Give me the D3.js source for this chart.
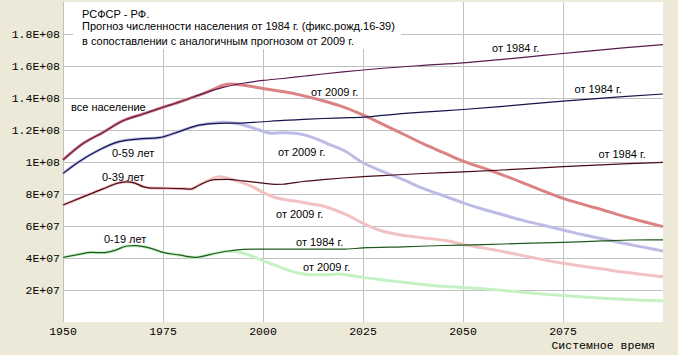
<!DOCTYPE html>
<html>
<head>
<meta charset="utf-8">
<script src="https://cdn.jsdelivr.net/npm/d3@7"></script>
<style>
  html, body { margin: 0; padding: 0; background: #ECE9D8; }
  svg { display: block; }
</style>
</head>
<body>
<svg id="chart" width="678" height="355"></svg>
<script>
// ---------------- DATA (millions of people) ----------------
const titleLines = [
  "РСФСР - РФ.",
  "Прогноз численности населения от 1984 г. (фикс.рожд.16-39)",
  "в сопоставлении с аналогичным прогнозом от 2009 г."
];
const xTickValues = [1950, 1975, 2000, 2025, 2050, 2075];
const xTickLabels = ["1950", "1975", "2000", "2025", "2050", "2075"];
const yTickValues = [20, 40, 60, 80, 100, 120, 140, 160, 180];
const yTickLabels = ["2E+07", "4E+07", "6E+07", "8E+07", "1E+08", "1.2E+08", "1.4E+08", "1.6E+08", "1.8E+08"];
const xAxisTitle = "Системное время";

// все население, прогноз 1984
const totalYears1984 = [1950,1955,1960,1965,1970,1975,1980,1985,1990,1995,2000,2005,2010,2015,2020,2025,2030,2040,2050,2060,2070,2080,2090,2100];
const total1984 = [101.3,111.5,118.5,125.8,130,134.2,138.3,142.7,146.6,149.2,151,152.2,153.6,155,156.3,157.5,158.6,160.4,162,164.2,166.6,169,171.3,173.3];
// все население, прогноз 2009
const totalYears2009 = [1950,1955,1960,1965,1970,1975,1980,1985,1988,1990,1992,1995,2000,2005,2010,2015,2020,2025,2030,2035,2040,2045,2050,2055,2060,2065,2070,2075,2080,2085,2090,2095,2100];
const total2009 = [101.3,111.5,118.5,125.8,130,134.2,138.3,142.7,145.8,148,148.7,148,146,144,141.5,138.3,134.5,129.4,123.5,117.5,111.5,106,100.5,96.3,91.8,87,82,77.3,73.5,70,66.2,62.8,59.6];

// 0-59 лет
const a59Years1984 = [1950,1954,1959,1964,1969,1974,1979,1984,1989,1994,1999,2005,2010,2015,2020,2025,2030,2040,2050,2060,2075,2090,2100];
const a59_1984 = [92.9,100.2,107.5,112.7,114.4,115.2,119,123,124.2,124.3,125,126,126.6,127.2,127.6,128,129.2,131.2,132.8,134.8,138,140.8,142.5];
const a59Years2009 = [1950,1954,1959,1964,1969,1974,1979,1984,1988,1990,1993,1996,1999,2002,2005,2008,2011,2014,2017,2020,2025,2030,2035,2040,2045,2050,2055,2060,2065,2070,2075,2080,2085,2090,2095,2100];
const a59_2009 = [92.9,100.2,107.5,112.7,114.4,115.2,119,123,124.6,124.8,124.2,122.5,120,118,118.3,118,116.5,113.8,110.5,107.5,99.5,94,89,83.5,79,74.5,70.5,67,63.5,60.5,57.5,54.5,51.9,49.2,46.8,44.4];

// 0-39 лет
const a39Years1984 = [1950,1955,1960,1964,1966,1968,1970,1972,1976,1980,1982,1984,1986,1988,1991,1995,2000,2003,2005,2010,2015,2020,2025,2030,2040,2050,2060,2075,2090,2100];
const a39_1984 = [73.1,78.2,83.2,87,87.6,86.8,84.6,83.7,83.6,83.3,83.1,85.5,87.8,89,89.2,88.2,86.8,86,86.1,87.8,89,90,90.8,91.5,92.8,93.8,95,97.1,98.8,99.8];
const a39Years2009 = [1950,1955,1960,1964,1966,1968,1970,1972,1976,1980,1982,1984,1986,1989,1991,1994,1997,2000,2003,2006,2009,2012,2015,2018,2021,2025,2029,2033,2038,2042,2046,2050,2055,2060,2065,2070,2075,2080,2085,2090,2095,2100];
const a39_2009 = [73.1,78.2,83.2,87,87.6,86.8,84.6,83.7,83.6,83.3,83.1,85.5,88,90.8,90,87.7,85,81,77.8,76.3,75.2,73.8,72.5,70,66.9,61.7,57.5,55,53.2,52,50.8,48.5,46.3,44,41.5,39,36.7,34.8,33.1,31.2,29.7,28.3];

// 0-19 лет
const a19Years1984 = [1950,1954,1957,1960,1963,1966,1968,1972,1975,1979,1983,1987,1991,1995,2000,2010,2020,2025,2035,2045,2055,2065,2075,2085,2092,2100];
const a19_1984 = [40.4,42.3,43.5,43.3,44.8,47.5,47.7,46,43.5,41.9,40.4,42.3,44.2,45.4,45.6,45.5,45.5,46.3,47,47.8,48.3,49.2,49.8,50.7,51.25,51.3];
const a19Years2009 = [1950,1954,1957,1960,1963,1966,1968,1972,1975,1979,1983,1987,1991,1993,1995,1997,1999,2001,2003,2005,2007,2009,2012,2015,2019,2022,2025,2030,2035,2040,2045,2050,2055,2060,2065,2070,2075,2080,2085,2090,2095,2100];
const a19_2009 = [40.4,42.3,43.5,43.3,44.8,47.5,47.7,46,43.5,41.9,40.4,42.3,44.2,44,43,41.5,39.3,37.3,35.5,33.5,31.8,30.5,29.6,29.5,30,29,27.9,26.3,24.8,23.5,22.3,21.6,20.8,19.7,18.6,17.5,16.5,15.6,14.9,14.2,13.6,13.1];

// ---------------- CHART ----------------
const svg = d3.select("#chart");
const plot = { left: 63, right: 663, top: 2, bottom: 322 };
const x = d3.scaleLinear().domain([1950, 2100]).range([plot.left, plot.right]);
const y = d3.scaleLinear().domain([0, 200]).range([plot.bottom, plot.top]);

svg.append("rect").attr("width", 678).attr("height", 355).attr("fill", "#ECE9D8");
svg.append("rect")
  .attr("x", plot.left).attr("y", plot.top)
  .attr("width", plot.right - plot.left).attr("height", plot.bottom - plot.top)
  .attr("fill", "#FFFFFF");

// grid
const grid = svg.append("g").attr("shape-rendering", "crispEdges").attr("stroke", "#C0C0C0").attr("stroke-width", 1);
grid.selectAll("line.v").data(xTickValues).join("line")
  .attr("x1", d => Math.round(x(d)) + 0.5).attr("x2", d => Math.round(x(d)) + 0.5)
  .attr("y1", plot.top).attr("y2", plot.bottom);
grid.selectAll("line.h").data(yTickValues).join("line")
  .attr("x1", plot.left).attr("x2", plot.right)
  .attr("y1", d => Math.round(y(d)) + 0.5).attr("y2", d => Math.round(y(d)) + 0.5);

// title background boxes (cover grid)
svg.append("rect").attr("x", 73).attr("y", plot.top).attr("width", 328).attr("height", 33).attr("fill", "#FFFFFF");
svg.append("rect").attr("x", 73).attr("y", 35).attr("width", 293).attr("height", 14).attr("fill", "#FFFFFF");

// axes labels
const monoFont = "'Liberation Mono', 'Courier New', monospace";
svg.append("g").selectAll("text").data(yTickValues).join("text")
  .attr("x", 60).attr("y", d => y(d) + 4)
  .attr("text-anchor", "end")
  .attr("font-family", monoFont).attr("font-size", 11.5).attr("fill", "#000")
  .text((d, i) => yTickLabels[i]);
svg.append("g").selectAll("text").data(xTickValues).join("text")
  .attr("x", d => x(d)).attr("y", 334.5)
  .attr("text-anchor", "middle")
  .attr("font-family", monoFont).attr("font-size", 11.5).attr("fill", "#000")
  .text((d, i) => xTickLabels[i]);
svg.append("text").attr("x", 655).attr("y", 349)
  .attr("text-anchor", "end")
  .attr("font-family", monoFont).attr("font-size", 11.5).attr("fill", "#000")
  .text(xAxisTitle);

// series
const series = [
  { years: totalYears2009, vals: total2009, color: "#DC8282", width: 3 },
  { years: a59Years2009, vals: a59_2009, color: "#BCBCE6", width: 3 },
  { years: a39Years2009, vals: a39_2009, color: "#F2C2C2", width: 3 },
  { years: a19Years2009, vals: a19_2009, color: "#C4F2C4", width: 3 },
  { years: totalYears1984, vals: total1984, color: "#5A1A52", width: 1.2 },
  { years: a59Years1984, vals: a59_1984, color: "#14144E", width: 1.2 },
  { years: a39Years1984, vals: a39_1984, color: "#4A0A14", width: 1.2 },
  { years: a19Years1984, vals: a19_1984, color: "#1E5A1E", width: 1.2 }
];
const line = d3.line().x(d => x(d[0])).y(d => y(d[1])).curve(d3.curveMonotoneX);
const lg = svg.append("g").attr("fill", "none").attr("stroke-linejoin", "round");
series.forEach(s => {
  lg.append("path")
    .datum(s.years.map((yr, i) => [yr, s.vals[i]]))
    .attr("d", line)
    .attr("stroke", s.color)
    .attr("stroke-width", s.width);
});

// title text
const sansFont = "'Liberation Sans', Arial, sans-serif";
const tg = svg.append("g").attr("font-family", sansFont).attr("font-size", 11).attr("fill", "#000");
const titleY = [17.5, 30, 45];
titleLines.forEach((t, i) => tg.append("text").attr("x", 82).attr("y", titleY[i]).text(t));

// line labels
const labels = [
  { t: "все население", x: 71, y: 110.5 },
  { t: "0-59 лет", x: 112, y: 156.5 },
  { t: "0-39 лет", x: 102, y: 180.5 },
  { t: "0-19 лет", x: 104, y: 243 },
  { t: "от 2009 г.", x: 311, y: 95.5 },
  { t: "от 2009 г.", x: 278, y: 156 },
  { t: "от 2009 г.", x: 276, y: 218 },
  { t: "от 1984 г.", x: 296, y: 246 },
  { t: "от 2009 г.", x: 303, y: 271 },
  { t: "от 1984 г.", x: 492, y: 52 },
  { t: "от 1984 г.", x: 574.5, y: 93 },
  { t: "от 1984 г.", x: 598.5, y: 158 }
];
tg.selectAll("text.lbl").data(labels).join("text")
  .attr("class", "lbl")
  .attr("x", d => d.x).attr("y", d => d.y)
  .text(d => d.t);
</script>
</body>
</html>
